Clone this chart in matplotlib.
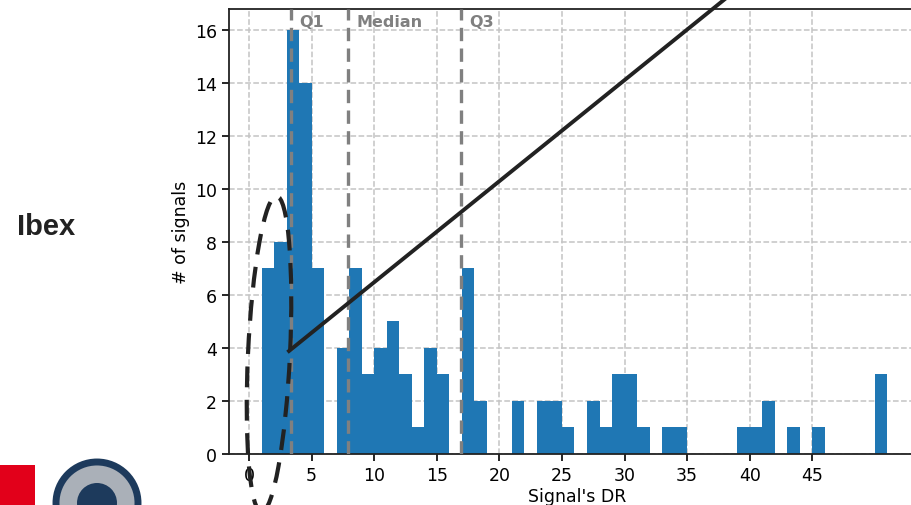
import numpy as np
import matplotlib
matplotlib.use("Agg")
import matplotlib.pyplot as plt
from matplotlib.patches import Ellipse, Rectangle

# histogram bins (width 1) and counts
bin_edges = list(range(0, 52))
counts = [0, 7, 8, 16, 14, 7, 0, 4, 7, 3,
          4, 5, 3, 1, 4, 3, 0, 7, 2, 0,
          0, 2, 0, 2, 2, 1, 0, 2, 1, 3,
          3, 1, 0, 1, 1, 0, 0, 0, 0, 1,
          1, 2, 0, 1, 0, 1, 0, 0, 0, 0,
          3]
quartile_names = ["Q1", "Median", "Q3"]
quartile_values = [3.35, 7.9, 16.9]
x_ticks = [0, 5, 10, 15, 20, 25, 30, 35, 40, 45]
y_ticks = [0, 2, 4, 6, 8, 10, 12, 14, 16]

fig = plt.figure(figsize=(9.12, 5.06), dpi=100)
W, H = 912, 506

# axes placed in pixel terms, right edge runs off the slide crop
ax = fig.add_axes([229 / W, 51 / H, (925 - 229) / W, (455 - 10) / H])
ax.hist(np.array(bin_edges[:-1]), bins=bin_edges, weights=counts, color="#1f77b4", zorder=2)
ax.set_xlim(-1.6, 54)
ax.set_ylim(0, 16.79)
ax.set_xticks(x_ticks)
ax.set_yticks(y_ticks)
ax.tick_params(labelsize=12.5, length=5, width=1.2)
ax.grid(True, linestyle="--", color="#c4c4c4", linewidth=1.1, zorder=0)
ax.set_axisbelow(True)
for s in ax.spines.values():
    s.set_linewidth(1.3)
    s.set_color("#222222")
ax.set_xlabel("Signal's DR", fontsize=12.5, labelpad=2)
ax.set_ylabel("# of signals", fontsize=12.5)

# quartile markers
for name, q in zip(quartile_names, quartile_values):
    ax.axvline(q, color="gray", linestyle=(0, (4, 2.2)), linewidth=2.4, zorder=3)
    ax.text(q + 0.7, 16.6, name, color="gray", fontsize=11.5, fontweight="bold",
            va="top", ha="left", zorder=4)

# slide annotations: dashed ellipse and zoom line
ell = Ellipse((269 / W, 1 - 355 / H), 42 / W, 316 / H, angle=-1.5, transform=fig.transFigure,
              fill=False, edgecolor="#222222", linewidth=3, linestyle=(0, (5, 3)), zorder=10)
fig.add_artist(ell)
fig.add_artist(plt.Line2D([289 / W, 725 / W], [1 - 352 / H, 1 - 0 / H], transform=fig.transFigure,
                          color="#222222", linewidth=2.8, zorder=10))

# slide title text
fig.text(46 / W, 1 - 227 / H, "Ibex", fontsize=21, fontweight="bold", family="Liberation Sans",
         color="#222222", ha="center", va="center")

# logos at bottom left (rough shapes)
fig.add_artist(Rectangle((0, 0), 35 / W, 40 / H, transform=fig.transFigure,
                         facecolor="#e2001a", edgecolor="none"))
fig.add_artist(Ellipse((97 / W, 1 - 504 / H), 82 / W, 82 / H, transform=fig.transFigure,
                       facecolor="#aab0b8", edgecolor="#1d3a5c", linewidth=5))
fig.add_artist(Ellipse((97 / W, 1 - 504 / H), 40 / W, 40 / H, transform=fig.transFigure,
                       facecolor="#1d3a5c", edgecolor="none"))

fig.savefig("out.png", dpi=100)
